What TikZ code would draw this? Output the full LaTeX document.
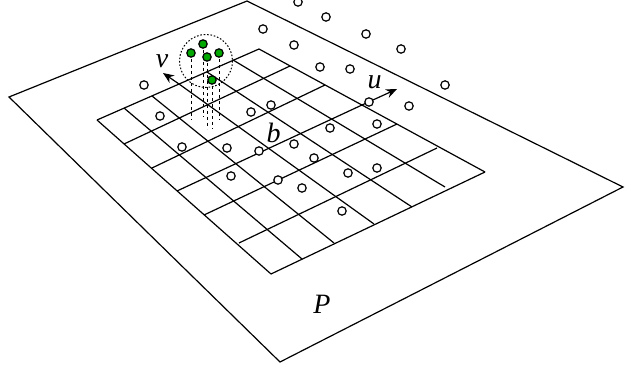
\documentclass[tikz,border=0pt]{standalone}
\usepackage{fontspec}
\setmainfont{Liberation Serif}
\usetikzlibrary{arrows.meta}
\definecolor{dotgreen}{RGB}{0,168,0}
\tikzset{
  axisarrow/.style={line width=1.2pt,-{Stealth[length=11pt,width=9pt]}},
  axislabel/.style={font=\fontsize{28}{28}\selectfont\itshape,inner sep=0pt},
  dropline/.style={line width=1pt,dash pattern=on 3.5pt off 2.5pt},
}
\newcommand{\gridbase}{%
  \foreach \xa/\ya/\xb/\yb in {%
    97/120/259/49,124/144/290/66,152/168/325/85,177/191/362/105,%
    204/215/397/124,239/243/437/148,271/274/485/172}{
      \draw (\xa,\ya) -- (\xb,\yb);}
  \foreach \xa/\ya/\xb/\yb in {%
    97/120/271/274,124/108/302/259,152/96/334/243,179/84/374/224,%
    207/72/412/207,233/60/445/187,259/49/485/172}{
      \draw (\xa,\ya) -- (\xb,\yb);}}

\begin{document}
\begin{tikzpicture}[x=1pt,y=-1pt,line width=1.2pt]
    \useasboundingbox (0,0) rectangle (632,366);
    % ---- plane and grid ----
    \draw (247,1) -- (623,187) -- (280,362) -- (9,97) -- cycle;
    \gridbase
    % ---- axes ----
    \draw[axisarrow] (179,84) -- (163,73);
    \draw[axisarrow] (362,105) -- (397,89);
    % ---- open points ----
    \foreach \x/\y in {%
      263/29,298/2,326/17,366/34,401/49,445/85,294/45,320/67,350/69,%
      144/85,160/116,251/112,271/105,369/102,409/106,330/128,377/124,%
      182/147,227/148,259/151,294/144,314/158,231/176,278/180,302/188,%
      348/173,377/168,342/211}{
        \filldraw[fill=white] (\x,\y) circle (4.2);}
    % ---- neighbourhood: ring, drop lines, green points ----
    \draw[line width=1pt,dash pattern=on 1.6pt off 1.8pt] (206,61) circle (26.5);
    \foreach \x/\ya/\yb in {191/53/120,203/44/117,207/57/129,212/80/129,219/53/120}{
      \draw[dropline] (\x,\ya) -- (\x,\yb);}
    \foreach \x/\y in {203/44,191/53,207/57,219/53,212/80}{
      \filldraw[fill=dotgreen] (\x,\y) circle (4.2);}
    % ---- labels ----
    \node[axislabel] (vlabel) at (162,61) {v};
    \node[axislabel] (ulabel) at (374.5,82.5) {u};
    \node[axislabel] (blabel) at (273.5,132.5) {b};
    \node[axislabel] (plabel) at (322,304) {P};
\end{tikzpicture}
\end{document}
